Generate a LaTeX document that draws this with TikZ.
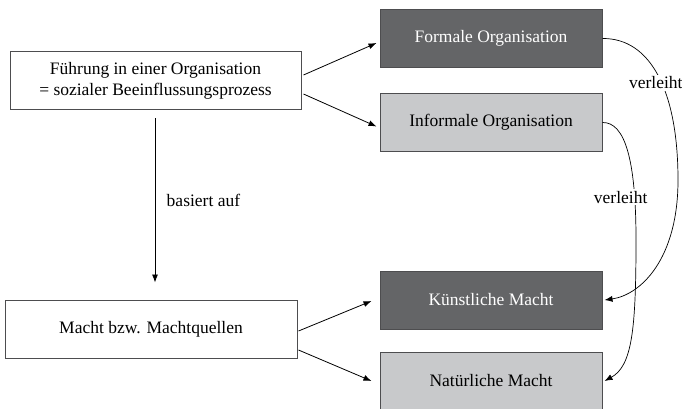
\documentclass[tikz,border=0pt]{standalone}
\usepackage{fontspec}
\setmainfont{Liberation Serif}
\newfontfamily\serifschrift{Liberation Serif}
\usetikzlibrary{positioning, arrows.meta}
\definecolor{dunkelgrau}{HTML}{646567}
\definecolor{hellgrau}{HTML}{C8C9CB}
\definecolor{rahmen}{HTML}{4D4D4F}

\begin{document}
\begin{tikzpicture}[
				x=1pt, y=-1pt,
				font=\serifschrift\fontsize{17.5}{21}\selectfont,
				box/.style={draw=rahmen, line width=1pt, minimum height=58pt, inner sep=0pt, align=center},
				weiss/.style={box, fill=white, minimum width=291pt},
				formbox/.style={box, fill=dunkelgrau, text=white, minimum width=222pt},
				infbox/.style={box, fill=hellgrau, minimum width=222pt},
				pfeil/.style={-{Latex[length=8pt,width=6pt]}, line width=0.8pt},
				bogen/.style={-{Latex[length=8pt,width=6pt]}, line width=0.7pt},
				verl/.style={fill=white, inner sep=2pt}
				]
				\useasboundingbox (0,0) rectangle (682,408);
				\node[weiss] (fuehrung) at (155.5,80.5) {Führung in einer Organisation\\= sozialer Beeinflussungsprozess};
				\node[weiss, minimum width=292pt] (macht) at (151,329) {Macht bzw. Machtquellen};
				\node[formbox] (formal) at (491,38.5) {Formale Organisation};
				\node[infbox, below=25pt of formal] (informal) {Informale Organisation};
				\node[formbox] (kuenst) at (491,300) {Künstliche Macht};
				\node[infbox, below=22pt of kuenst] (natuer) {Natürliche Macht};
				
				\draw[pfeil] ([xshift=2pt,yshift=5.5pt]fuehrung.east) -- ([xshift=-3pt,yshift=-4.5pt]formal.west);
				\draw[pfeil] ([xshift=2pt,yshift=-13.5pt]fuehrung.east) -- ([xshift=-3pt,yshift=-4pt]informal.west);
				\draw[pfeil] ([xshift=1pt,yshift=-2pt]macht.east) -- ([xshift=-8pt,yshift=-1pt]kuenst.west);
				\draw[pfeil] ([xshift=1pt,yshift=-21pt]macht.east) -- ([xshift=-8pt]natuer.west);
				\draw[pfeil] ([yshift=-8pt]fuehrung.south -| 155,0) -- ([yshift=17pt]macht.north -| 155,0)
				node[midway, right=8pt] {basiert auf};
				
				\draw[bogen] (formal.east) .. controls (650,38) and (678,90) .. (678,180)
				node[verl, pos=0.55, xshift=-6pt] {verleiht}
				.. controls (678,260) and (640,295) .. ([xshift=2pt]kuenst.east);
				\draw[bogen] (informal.east) .. controls (625,122) and (636,160) .. (636,240)
				node[verl, pos=0.8, xshift=-14pt] {verleiht}
				.. controls (636,330) and (632,366) .. ([xshift=2pt]natuer.east);
			\end{tikzpicture}
\end{document}
